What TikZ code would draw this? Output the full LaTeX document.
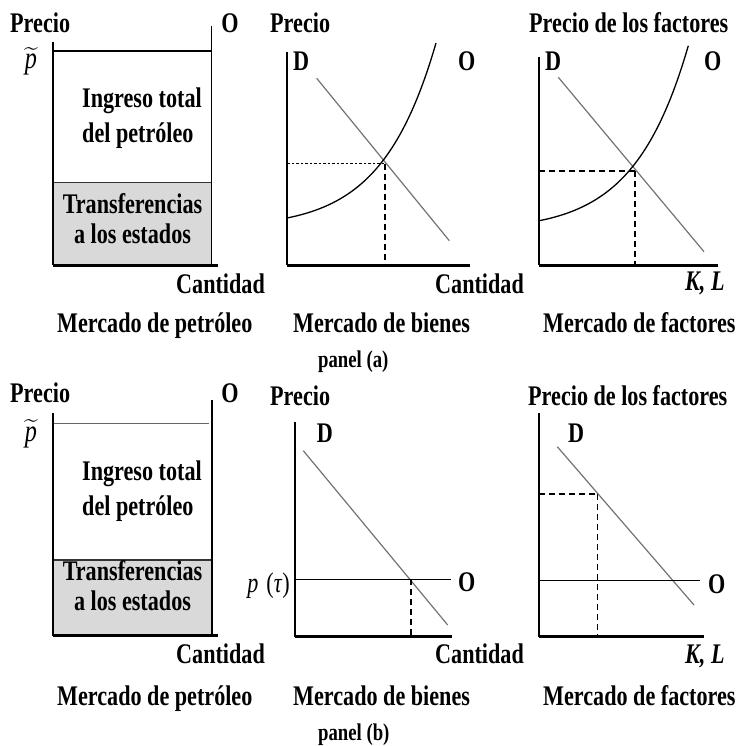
\documentclass[tikz,border=0pt]{standalone}
\usepackage{fontspec}
\setmainfont{Liberation Serif}[FakeStretch=0.78]
\usepackage{amsmath}
\usepackage{tikz}
\usetikzlibrary{positioning}
\colorlet{LightGray}{black!15}
\colorlet{DemandGray}{black!55}

\begin{document}
\begin{tikzpicture}[x=1pt, y=-1pt,
  lbl/.style={inner sep=0pt, font=\bfseries\fontsize{28.4}{30}\selectfont},
  mlbl/.style={inner sep=0pt, font=\fontsize{28.4}{30}\selectfont},
  tlbl/.style={inner sep=0pt, font=\fontsize{31}{32}\selectfont},
  paneltag/.style={inner sep=0pt, font=\bfseries\fontsize{24}{26}\selectfont},
  axisline/.style={line width=2.2pt},
  baseline/.style={line width=3pt},
  oline/.style={line width=1.3pt},
  demand/.style={line width=1.2pt, DemandGray},
  supply/.style={line width=1.3pt},
  dots/.style={line width=1pt, dash pattern=on 2.5pt off 2pt},
  dashes/.style={line width=1.3pt, dash pattern=on 6pt off 4pt}]

\fill[white] (0,0) rectangle (739,746);
\useasboundingbox (0,0) rectangle (739,746);

% ---------------- panel (a) ----------------

% Oil market
\def \xL {53}
\def \xO {211.5}
\def \yB {265}
\fill[LightGray] (\xL,182.7) rectangle (\xO,\yB);
\draw[line width=1.2pt, black!80] (\xL,182.7) -- (\xO,182.7);
\draw[oline] (\xL,51) -- (\xO,51);
\draw[oline] (\xO,26) -- (\xO,\yB);
\draw[axisline] (\xL,41.7) -- (\xL,\yB);
\draw[baseline] (\xL,\yB) -- (218,\yB);

\node[lbl, anchor=base west] (precioA) at (10,32.7) {Precio};
\node[lbl, anchor=base] (oferA) at (230,32.7) {O};
\node[tlbl, anchor=base] (ptildeA) at (31,69) {$\widetilde{\textit{p}}$};
\node[lbl, anchor=base west] (ingresoA) at (82,108) {Ingreso total};
\node[lbl, anchor=base west] (petroA) at (82,143) {del petróleo};
\node[lbl, anchor=base] (transfA) at (132.5,213) {Transferencias};
\node[lbl, anchor=base] (estadosA) at (132.5,243) {a los estados};
\node[lbl, anchor=base west] (cantA) at (176,293) {Cantidad};

% Goods market
\draw[axisline] (287.3,51.7) -- (287.3,\yB);
\draw[baseline] (287.3,\yB) -- (470,\yB);
\draw[demand] (316.7,78.3) -- (449.3,240.7);
\draw[supply] (287,218) .. controls (357,204) and (401,164) .. (436,43);
\draw[dots] (287.3,164) -- (385,164);
\draw[dashes] (385,164) -- (385,\yB);

\node[lbl, anchor=base west] (precioB) at (270,33) {Precio};
\node[lbl, anchor=base west] (demB) at (293,70.7) {D};
\node[lbl, anchor=base west] (oferB) at (458,70.7) {O};
\node[lbl, anchor=base west] (cantB) at (435,293) {Cantidad};

% Factor market
\draw[axisline] (539.3,57) -- (539.3,\yB);
\draw[baseline] (539.3,\yB) -- (718,\yB);
\draw[demand] (558.3,77.3) -- (704,251.7);
\draw[supply] (539.3,220.7) .. controls (609.3,206.7) and (653.3,166.7) .. (688.3,45.7);
\draw[dashes] (539.3,171) -- (635,171);
\draw[dashes] (635,171) -- (635,\yB);

\node[lbl, anchor=base west] (precioC) at (529,33) {Precio de los factores};
\node[lbl, anchor=base west] (demC) at (545,71) {D};
\node[lbl, anchor=base west] (oferC) at (704,71) {O};
\node[lbl, anchor=base west] (klC) at (685,290) {\textit{K, L}};

% captions
\node[lbl, anchor=base west] (mercA) at (57,332) {Mercado de petróleo};
\node[lbl, anchor=base west] (mercB) at (293,332) {Mercado de bienes};
\node[lbl, anchor=base west] (mercC) at (543,332) {Mercado de factores};
\node[paneltag, anchor=base west] (panelA) at (318,367) {panel (a)};

% ---------------- panel (b) ----------------

% Oil market
\def \yBB {635.7}
\fill[LightGray] (\xL,560) rectangle (212,\yBB);
\draw[line width=1.2pt, black!80] (\xL,560) -- (212,560);
\draw[oline, black!60] (\xL,423.3) -- (209,423.3);
\draw[oline] (212,400) -- (212,\yBB);
\draw[axisline] (\xL,412.7) -- (\xL,\yBB);
\draw[baseline] (\xL,\yBB) -- (218,\yBB);

\node[lbl, anchor=base west] (precioD) at (10,402.7) {Precio};
\node[lbl, anchor=base] (oferD) at (230,402.7) {O};
\node[tlbl, anchor=base] (ptildeD) at (31,441) {$\widetilde{\textit{p}}$};
\node[lbl, anchor=base west] (ingresoD) at (82,480) {Ingreso total};
\node[lbl, anchor=base west] (petroD) at (82,515) {del petróleo};
\node[lbl, anchor=base] (transfD) at (132.5,580) {Transferencias};
\node[lbl, anchor=base] (estadosD) at (132.5,610.7) {a los estados};
\node[lbl, anchor=base west] (cantD) at (176,663) {Cantidad};

% Goods market
\draw[axisline] (295,421.7) -- (295,636.7);
\draw[baseline] (295,636.7) -- (451.7,636.7);
\draw[demand] (303.3,450.7) -- (447.7,625);
\draw[supply, line width=1.5pt] (295,579.3) -- (451,579.3);
\draw[dashes] (411,579.3) -- (411,636.7);

\node[lbl, anchor=base west] (precioE) at (270,405) {Precio};
\node[lbl, anchor=base west] (demE) at (316.7,442.7) {D};
\node[lbl, anchor=base west] (oferE) at (458,591.7) {O};
\node[mlbl, anchor=base east] (ptauE) at (290,592) {\textit{p}\;(\textit{τ})};
\node[lbl, anchor=base west] (cantE) at (435,663) {Cantidad};

% Factor market
\draw[axisline] (539.3,413) -- (539.3,636.7);
\draw[baseline] (539.3,636.7) -- (704,636.7);
\draw[demand] (557.3,446.7) -- (694,605);
\draw[supply, line width=1.5pt] (539.3,580.7) -- (700,580.7);
\draw[dashes] (539.3,494) -- (597.3,494);
\draw[dashes] (597.3,494) -- (597.3,636.7);

\node[lbl, anchor=base west] (precioF) at (528,405) {Precio de los factores};
\node[lbl, anchor=base west] (demF) at (568,442.7) {D};
\node[lbl, anchor=base west] (oferF) at (708,593) {O};
\node[lbl, anchor=base west] (klF) at (685,663) {\textit{K, L}};

% captions
\node[lbl, anchor=base west] (mercD) at (57,705) {Mercado de petróleo};
\node[lbl, anchor=base west] (mercE) at (293,705) {Mercado de bienes};
\node[lbl, anchor=base west] (mercF) at (543,705) {Mercado de factores};
\node[paneltag, anchor=base west] (panelB) at (318,740) {panel (b)};

\end{tikzpicture}
\end{document}
